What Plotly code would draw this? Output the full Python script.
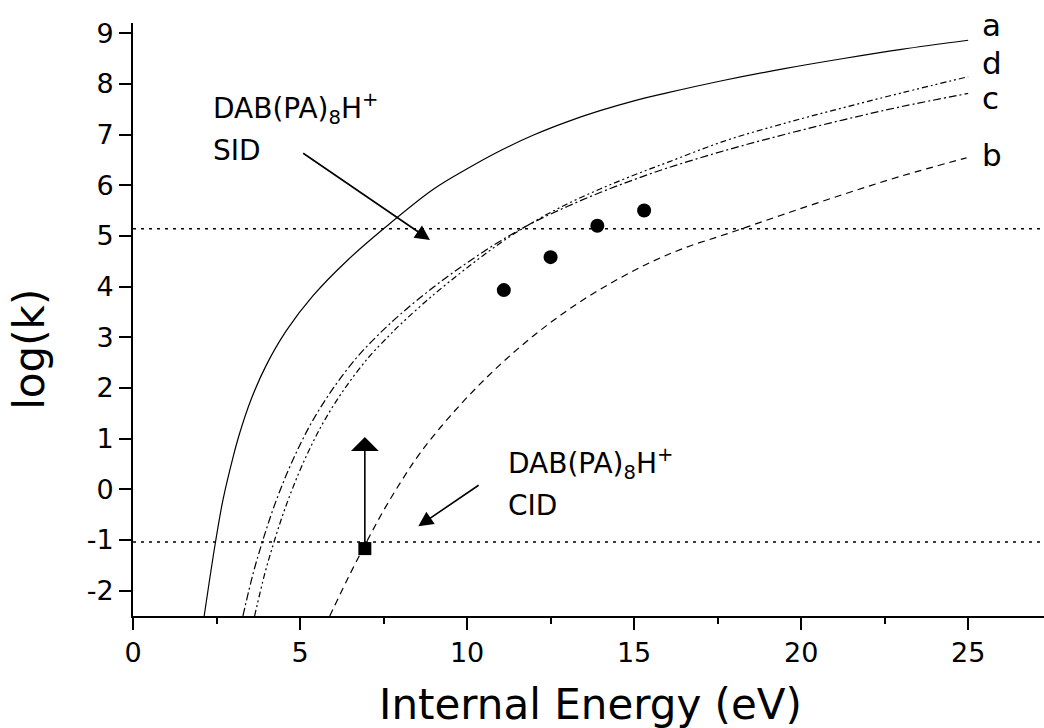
import plotly.graph_objects as go

# Rate-constant curves, log(k) against internal energy (eV)
energy_a = [2.13, 2.3, 2.47, 2.69, 2.99, 3.19, 3.54, 3.99, 4.59, 5.39, 6.39, 7.5, 8.99, 9.99,
            10.99, 11.99, 12.99, 13.98, 14.97, 15.98, 17.7, 19.5, 21.27, 23.0, 25.0]
logk_a = [-2.5, -1.75, -1.04, -0.22, 0.62, 1.10, 1.78, 2.45, 3.13, 3.82, 4.50, 5.14, 5.92, 6.32,
          6.68, 6.99, 7.25, 7.47, 7.66, 7.82, 8.07, 8.30, 8.50, 8.68, 8.86]

energy_b = [5.89, 6.4, 6.99, 7.5, 8.05, 8.6, 9.5, 10.5, 11.5, 12.5, 13.5, 14.5, 15.5, 16.5,
            17.87, 19.5, 21.27, 23.0, 24.95]
logk_b = [-2.5, -1.8, -1.04, -0.42, 0.18, 0.72, 1.45, 2.15, 2.76, 3.29, 3.75, 4.14, 4.48, 4.76,
          5.06, 5.43, 5.82, 6.18, 6.54]

energy_c = [3.29, 3.6, 3.89, 4.2, 4.6, 5.0, 5.4, 6.0, 6.7, 7.3, 8.0, 9.0, 10.0, 11.0, 12.0,
            13.0, 14.0, 15.0, 16.0, 17.7, 19.5, 21.27, 23.0, 25.0]
logk_c = [-2.5, -1.65, -1.0, -0.38, 0.3, 0.88, 1.38, 2.0, 2.6, 3.02, 3.45, 3.99, 4.47, 4.90, 5.27,
          5.58, 5.86, 6.11, 6.34, 6.68, 7.0, 7.29, 7.55, 7.81]

energy_d = [3.64, 3.95, 4.24, 4.55, 4.95, 5.35, 5.75, 6.35, 7.05, 7.65, 8.0, 9.0, 10.0, 11.0,
            12.0, 13.0, 14.0, 15.0, 16.0, 17.7, 19.5, 21.27, 23.0, 25.0]
logk_d = [-2.5, -1.65, -1.0, -0.38, 0.3, 0.88, 1.38, 2.0, 2.6, 3.02, 3.25, 3.84, 4.37, 4.86,
          5.28, 5.63, 5.93, 6.20, 6.45, 6.87, 7.22, 7.53, 7.82, 8.14]

# Measured points
sid_energy = [11.1, 12.5, 13.9, 15.3]
sid_logk = [3.93, 4.58, 5.20, 5.50]
cid_energy = [6.94]
cid_logk = [-1.17]

# Reference levels
sid_level = 5.14
cid_level = -1.04

# Annotation arrows (tail, tip)
sid_arrow_energy = [5.05, 8.89]
sid_arrow_logk = [6.65, 4.92]
cid_arrow_energy = [10.39, 8.54]
cid_arrow_logk = [0.10, -0.73]
bound_arrow_energy = [6.94, 6.94]
bound_arrow_logk = [-1.17, 1.03]

x_ticks = [0, 5, 10, 15, 20, 25]
x_minor = [2.5, 7.5, 12.5, 17.5, 22.5]
y_ticks = [-2, -1, 0, 1, 2, 3, 4, 5, 6, 7, 8, 9]

curve_labels = ["a", "b", "c", "d"]
curve_label_logk = [9.17, 6.60, 7.73, 8.42]

FONT = "DejaVu Sans"
X_MAX = 27.27

fig = go.Figure()

curve_styles = [
    (energy_a, logk_a, "solid"),
    (energy_b, logk_b, "7px,5px"),
    (energy_c, logk_c, "8px,3px,2px,3px"),
    (energy_d, logk_d, "6px,3px,2px,3px,2px,3px"),
]
for xs, ys, dash in curve_styles:
    fig.add_trace(go.Scatter(
        x=xs, y=ys, mode="lines",
        line=dict(color="black", width=1.2, dash=dash, shape="spline", smoothing=1.0),
        hoverinfo="skip",
    ))

# Horizontal reference levels
for lvl in (sid_level, cid_level):
    fig.add_trace(go.Scatter(
        x=[0, X_MAX], y=[lvl, lvl], mode="lines",
        line=dict(color="black", width=1.6, dash="3px,5px"),
        hoverinfo="skip",
    ))

fig.add_trace(go.Scatter(
    x=sid_energy, y=sid_logk, mode="markers",
    marker=dict(symbol="circle", size=14, color="black"),
))
fig.add_trace(go.Scatter(
    x=cid_energy, y=cid_logk, mode="markers",
    marker=dict(symbol="square", size=13, color="black"),
))

annotations = []

# Arrows as annotation arrows (tail -> tip)
for xs, ys, head, hsize in [
    (sid_arrow_energy, sid_arrow_logk, 2, 1.85),
    (cid_arrow_energy, cid_arrow_logk, 2, 1.85),
    (bound_arrow_energy, bound_arrow_logk, 1, 2.9),
]:
    annotations.append(dict(
        x=xs[1], y=ys[1], ax=xs[0], ay=ys[0], xref="x", yref="y", axref="x", ayref="y",
        text="", showarrow=True, arrowhead=head, arrowsize=hsize, arrowwidth=1.6,
        arrowcolor="black", standoff=0, startstandoff=0,
    ))

for lab, yv in zip(curve_labels, curve_label_logk):
    annotations.append(dict(x=25.35, y=yv, xref="x", yref="y", text=lab, showarrow=False,
                            xanchor="left", yanchor="middle", font=dict(size=31, family=FONT)))

annotations += [
    dict(x=2.32, y=7.51, xref="x", yref="y", text="DAB(PA)<sub>8</sub>H<sup>+</sup>", showarrow=False,
         xanchor="left", yanchor="middle", font=dict(size=28, family=FONT)),
    dict(x=2.32, y=6.69, xref="x", yref="y", text="SID", showarrow=False,
         xanchor="left", yanchor="middle", font=dict(size=28, family=FONT)),
    dict(x=11.18, y=0.51, xref="x", yref="y", text="DAB(PA)<sub>8</sub>H<sup>+</sup>", showarrow=False,
         xanchor="left", yanchor="middle", font=dict(size=28, family=FONT)),
    dict(x=11.18, y=-0.32, xref="x", yref="y", text="CID", showarrow=False,
         xanchor="left", yanchor="middle", font=dict(size=28, family=FONT)),
    dict(x=0.502, y=-0.149, xref="paper", yref="paper", text="Internal Energy (eV)", showarrow=False,
         xanchor="center", yanchor="middle", font=dict(size=42, family=FONT)),
    dict(x=-0.113, y=0.449, xref="paper", yref="paper", text="log(k)", showarrow=False, textangle=-90,
         xanchor="center", yanchor="middle", font=dict(size=42, family=FONT)),
]

fig.update_layout(
    width=1044, height=728,
    margin=dict(l=133, r=0, t=23, b=112),
    plot_bgcolor="white", paper_bgcolor="white",
    showlegend=False,
    font=dict(family=FONT, color="black"),
    annotations=annotations,
    xaxis=dict(
        range=[0, X_MAX], tickvals=x_ticks, ticktext=[str(v) for v in x_ticks],
        ticks="outside", ticklen=12, tickwidth=2, tickcolor="black",
        showline=True, linewidth=2, linecolor="black",
        showgrid=False, zeroline=False, tickfont=dict(size=27, family=FONT),
        minor=dict(tickvals=x_minor, ticks="outside", ticklen=6, tickwidth=2, tickcolor="black", showgrid=False),
    ),
    yaxis=dict(
        range=[-2.5, 9.2], tickvals=y_ticks, ticktext=[str(v) for v in y_ticks],
        ticks="outside", ticklen=12, tickwidth=2, tickcolor="black",
        showline=True, linewidth=2, linecolor="black",
        showgrid=False, zeroline=False, tickfont=dict(size=27, family=FONT),
    ),
)

fig.write_html("out.html")
